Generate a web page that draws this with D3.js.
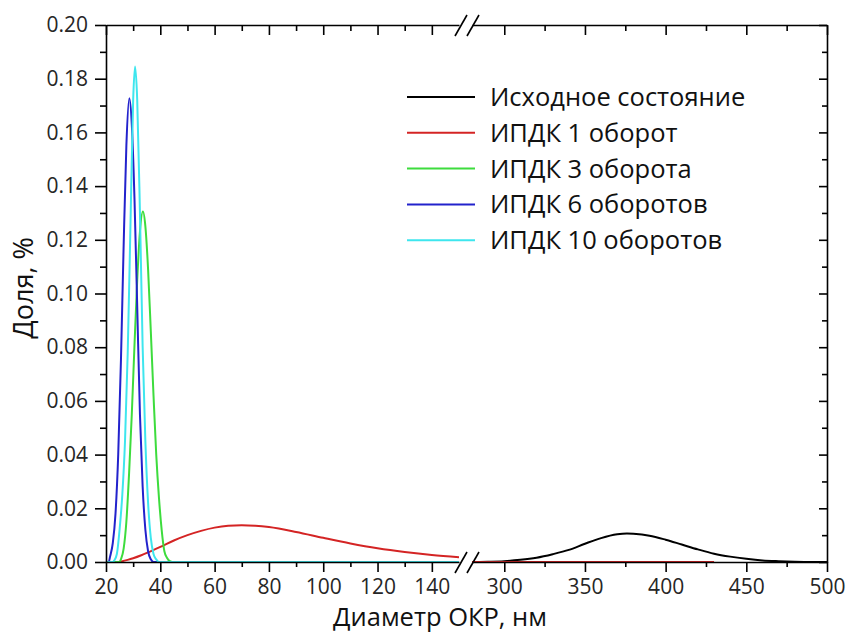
<!DOCTYPE html>
<html>
<head>
<meta charset="utf-8">
<script src="https://cdn.jsdelivr.net/npm/d3@7"></script>
<style>
  body { margin: 0; background: #fff; }
  svg text { font-family: "Open Sans", sans-serif; }
</style>
</head>
<body>
<svg width="848" height="633"></svg>
<script>
// series: [diameter, nm ; share, %]
const initialState = [[280,0],[290,0.0001],[300,0.0003],[310,0.0008],[320,0.0016],[330,0.0029],[340,0.0045],[350,0.0068],[360,0.0089],[370,0.0103],[376,0.0106],[380,0.0105],[390,0.0098],[400,0.0083],[410,0.0065],[420,0.0047],[430,0.0031],[440,0.0020],[450,0.0012],[460,0.0006],[470,0.0003],[480,0.0001],[490,0],[500,0]];
const hpt1 = [[20,0],[24,0],[26,0.0003],[28,0.0008],[30,0.0014],[33,0.0025],[36,0.0038],[40,0.0056],[45,0.0080],[50,0.0100],[55,0.0116],[60,0.0128],[65,0.0135],[70,0.0137],[75,0.0135],[80,0.0130],[90,0.0112],[100,0.0090],[110,0.0069],[120,0.0051],[130,0.0037],[140,0.0026],[150,0.0018],[280,0],[430,0]];
const hpt3 = [[20,0],[25,0],[25.5,0.001],[26.5,0.005],[27.5,0.015],[28.5,0.033],[29.5,0.055],[30.5,0.081],[31.5,0.105],[32.5,0.123],[33.6,0.1305],[34.5,0.125],[35.5,0.109],[36.5,0.086],[37.5,0.062],[38.5,0.040],[39.5,0.024],[40.5,0.012],[41.5,0.004],[42.5,0.0015],[43.5,0.0003],[44.5,0],[150,0]];
const hpt6 = [[20,0],[21,0],[21.5,0.002],[22.5,0.007],[23.5,0.018],[24.5,0.040],[25.5,0.075],[26.5,0.118],[27.5,0.155],[28.6,0.1727],[29.5,0.163],[30.5,0.135],[31.5,0.095],[32.5,0.055],[33.5,0.028],[34.5,0.012],[35.5,0.004],[36.5,0.001],[37.5,0],[150,0]];
const hpt10 = [[20,0],[22.5,0],[23,0.0005],[24,0.003],[25,0.012],[26,0.025],[27,0.045],[28,0.078],[29,0.125],[30,0.172],[30.7,0.1845],[31.5,0.172],[32.5,0.130],[33.5,0.080],[34.5,0.045],[35.5,0.022],[36.5,0.009],[37.5,0.003],[38.5,0.001],[39.5,0],[150,0]];

const seriesNames = ["Исходное состояние","ИПДК 1 оборот","ИПДК 3 оборота","ИПДК 6 оборотов","ИПДК 10 оборотов"];
const seriesColors = ["#000000","#d42424","#3ddc3d","#2222cc","#3ee6ee"];
const seriesData = [initialState, hpt1, hpt3, hpt6, hpt10];

const xTicksLeft = [20,40,60,80,100,120,140];
const xMinorLeft = [30,50,70,90,110,130];
const xTicksRight = [300,350,400,450,500];
const xMinorRight = [325,375,425,475];
const yTicks = [0,0.02,0.04,0.06,0.08,0.10,0.12,0.14,0.16,0.18,0.20];
const yMinor = [0.01,0.03,0.05,0.07,0.09,0.11,0.13,0.15,0.17,0.19];

const svg = d3.select("svg");
const pTop = 25, pBottom = 562, pLeft = 106, pRight = 827;

const xL = d3.scaleLinear().domain([20,150]).range([pLeft,459]);
const xR = d3.scaleLinear().domain([280,500]).range([472,pRight]);
const y = d3.scaleLinear().domain([0,0.2]).range([pBottom,pTop]);

//CURVES
seriesData.forEach((data,i)=>{
  const partL = data.filter(d=>d[0]<=150), partR = data.filter(d=>d[0]>=280);
  [[partL,xL],[partR,xR]].forEach(([part,sc])=>{
    if(part.length<2) return;
    svg.append("path")
      .attr("d", d3.line().x(d=>sc(d[0])).y(d=>y(d[1])).curve(d3.curveMonotoneX)(part))
      .attr("fill","none")
      .attr("stroke",seriesColors[i])
      .attr("stroke-width",2);
  });
});

//AXES
function styleAxis(g){
  g.selectAll("path.domain").attr("stroke","#000").attr("stroke-width",1.6);
  g.selectAll(".tick line").attr("stroke","#000").attr("stroke-width",1.6);
  g.selectAll(".tick text").attr("fill","#262626").style("font-size","21px");
}
const noLabel = ()=>"";

// bottom / top
[[xL,xTicksLeft,xMinorLeft],[xR,xTicksRight,xMinorRight]].forEach(([sc,maj,min])=>{
  svg.append("g").attr("transform",`translate(0,${pBottom})`)
    .call(d3.axisBottom(sc).tickValues(maj).tickSize(10).tickSizeOuter(0).tickPadding(7)).call(styleAxis);
  svg.append("g").attr("transform",`translate(0,${pBottom})`)
    .call(d3.axisBottom(sc).tickValues(min).tickSize(5).tickFormat(noLabel)).call(styleAxis)
    .select(".domain").remove();
  svg.append("g").attr("transform",`translate(0,${pTop})`)
    .call(d3.axisTop(sc).tickValues(maj).tickSize(-10).tickSizeOuter(0).tickFormat(noLabel)).call(styleAxis);
  svg.append("g").attr("transform",`translate(0,${pTop})`)
    .call(d3.axisTop(sc).tickValues(min).tickSize(-6).tickFormat(noLabel)).call(styleAxis)
    .select(".domain").remove();
});

// left / right
svg.append("g").attr("transform",`translate(${pLeft},0)`)
  .call(d3.axisLeft(y).tickValues(yTicks).tickSize(11).tickSizeOuter(0).tickPadding(7).tickFormat(d3.format(".2f"))).call(styleAxis);
svg.append("g").attr("transform",`translate(${pLeft},0)`)
  .call(d3.axisLeft(y).tickValues(yMinor).tickSize(6).tickFormat(noLabel)).call(styleAxis)
  .select(".domain").remove();
svg.append("g").attr("transform",`translate(${pRight},0)`)
  .call(d3.axisRight(y).tickValues(yTicks).tickSize(-8).tickSizeOuter(0).tickFormat(noLabel)).call(styleAxis);
svg.append("g").attr("transform",`translate(${pRight},0)`)
  .call(d3.axisRight(y).tickValues(yMinor).tickSize(-5).tickFormat(noLabel)).call(styleAxis)
  .select(".domain").remove();

//BREAK MARKS
[pBottom, pTop].forEach(yy=>{
  [0,12].forEach(dx=>{
    svg.append("line")
      .attr("x1",455+dx).attr("y1",yy+11)
      .attr("x2",467+dx).attr("y2",yy-10)
      .attr("stroke","#000").attr("stroke-width",1.6);
  });
});

//AXIS TITLES
svg.append("text")
  .attr("x",440).attr("y",626)
  .attr("text-anchor","middle")
  .attr("fill","#111")
  .style("font-size","25.5px")
  .text("Диаметр ОКР, нм");
svg.append("text")
  .attr("transform","translate(33,288) rotate(-90)")
  .attr("text-anchor","middle")
  .attr("fill","#111")
  .style("font-size","27px")
  .text("Доля, %");

//LEGEND
const legend = svg.append("g").attr("transform","translate(407,97)");
seriesNames.forEach((name,i)=>{
  const row = legend.append("g").attr("transform",`translate(0,${i*35.8})`);
  row.append("line").attr("x1",0).attr("x2",68).attr("y1",0).attr("y2",0)
     .attr("stroke",seriesColors[i]).attr("stroke-width",2);
  row.append("text").attr("x",83).attr("y",9)
     .attr("fill","#111").style("font-size","25.5px").text(name);
});
</script>
</body>
</html>
